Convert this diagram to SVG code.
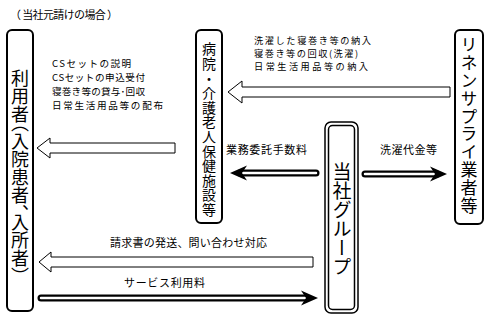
<svg xmlns="http://www.w3.org/2000/svg" width="490" height="319" viewBox="0 0 490 319">
<style>
.box{fill:#fff;stroke:#000;stroke-width:2}
.hollow{fill:#fff;stroke:#000;stroke-width:1}
.lbl{font-family:"Noto Sans CJK JP","Noto Sans",sans-serif;font-size:11px;fill:#000}
.ml{font-family:"Noto Sans CJK JP","Noto Sans",sans-serif;fill:#000}
.vt{font-family:"Noto Sans CJK JP",sans-serif;fill:#000;writing-mode:vertical-rl;font-feature-settings:"vhal" 1}
.shaftO{stroke:#000;stroke-width:7;stroke-linecap:round;fill:none}
.shaftI{stroke:#fff;stroke-width:2.5;stroke-linecap:round;fill:none}
</style>
<defs>
<path id="head" d="M0,0 L-17,-7.5 L-12,0 L-17,7.5 Z" fill="#000"/>
</defs>
<rect width="490" height="319" fill="#fff"/>
<text class="lbl" x="10" y="19" textLength="108" lengthAdjust="spacing">（ 当社元請けの場合 ）</text>

<g id="node-user">
<rect class="box" x="7" y="30" width="26" height="281" rx="5"/>
<text class="vt" x="20" y="69" font-size="18">利用者（入院患者、入所者）</text>
</g>

<g id="node-hospital">
<rect class="box" x="196" y="30" width="26" height="193" rx="5"/>
<text class="vt" x="209" y="42" font-size="14" letter-spacing="0.6" style="font-feature-settings:normal">病院・介護老人保健施設等</text>
</g>

<g id="node-linen">
<rect class="box" x="455" y="30" width="28" height="194" rx="5"/>
<text class="vt" x="469" y="36.5" font-size="17" letter-spacing="0.8">リネンサプライ業者等</text>
</g>

<g id="node-group">
<rect x="325" y="122" width="33" height="191" rx="6" fill="#fff" stroke="#000" stroke-width="1.5"/>
<rect x="328.5" y="125.5" width="26" height="184" rx="4" fill="none" stroke="#000" stroke-width="1.5"/>
<text class="vt" x="342" y="162.5" font-size="19">当社グループ</text>
</g>

<g id="connectors">
<polygon class="hollow" points="228,92 242,81 242,87 450,87 450,97 242,97 242,103"/>
<polygon class="hollow" points="37,148 50,138 50,143 175,143 175,153 50,153 50,158"/>
<polygon class="hollow" points="39,262 51,252 51,257 313,257 313,267 51,267 51,272"/>

<line class="shaftO" x1="240" y1="173" x2="316" y2="173"/>
<line class="shaftI" x1="242" y1="173" x2="316" y2="173"/>
<use href="#head" transform="translate(230,173) rotate(180)"/>

<line class="shaftO" x1="365" y1="174" x2="437" y2="174"/>
<line class="shaftI" x1="365" y1="174" x2="435" y2="174"/>
<use href="#head" transform="translate(447,174)"/>

<line class="shaftO" x1="41" y1="298" x2="307" y2="298"/>
<line class="shaftI" x1="41" y1="298" x2="305" y2="298"/>
<use href="#head" transform="translate(318,298)"/>
</g>

<g id="labels">
<text class="ml" font-size="9.6"><tspan x="52" y="66.8" textLength="79" lengthAdjust="spacing">CSセットの説明</tspan><tspan x="52" y="80.8" textLength="93" lengthAdjust="spacing">CSセットの申込受付</tspan><tspan x="52" y="94.8" textLength="93" lengthAdjust="spacing">寝巻き等の貸与･回収</tspan><tspan x="52" y="108.8" textLength="111" lengthAdjust="spacing">日常生活用品等の配布</tspan></text>
<text class="ml" font-size="9.2"><tspan x="254" y="43.6" textLength="117" lengthAdjust="spacing">洗濯した寝巻き等の納入</tspan><tspan x="254" y="57" textLength="104" lengthAdjust="spacing">寝巻き等の回収(洗濯)</tspan><tspan x="254" y="70.4" textLength="114" lengthAdjust="spacing">日常生活用品等の納入</tspan></text>
<text class="lbl" x="226" y="154" textLength="81" lengthAdjust="spacing">業務委託手数料</text>
<text class="lbl" x="380" y="154" textLength="57" lengthAdjust="spacing">洗濯代金等</text>
<text class="lbl" x="110" y="247" textLength="157" lengthAdjust="spacing">請求書の発送、問い合わせ対応</text>
<text class="lbl" x="124" y="287" textLength="81" lengthAdjust="spacing">サービス利用料</text>
</g>
</svg>
